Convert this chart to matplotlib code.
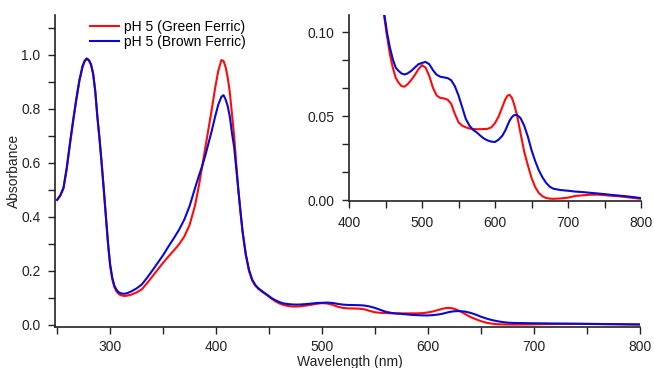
import matplotlib
matplotlib.use("Agg")
import matplotlib.pyplot as plt
from matplotlib.ticker import MultipleLocator, FormatStrFormatter

plt.rcParams['font.family'] = ['Liberation Sans', 'DejaVu Sans']

wavelength = [250, 253, 256, 259, 262, 265, 268, 271, 274, 276, 278, 280, 282, 284, 286, 288,
              290, 292, 294, 296, 298, 300, 302, 304, 306, 308, 310, 313, 316, 320, 325, 330,
              335, 340, 345, 350, 355, 360, 365, 370, 375, 380, 384, 387, 390, 393, 396, 399,
              402, 405, 407, 409, 411, 413, 415, 417, 419, 421, 423, 425, 428, 431, 434, 437,
              440, 444, 448, 452, 456, 460, 464, 468, 472, 476, 480, 485, 490, 495, 500, 505,
              510, 515, 520, 525, 530, 535, 540, 545, 550, 555, 560, 565, 570, 575, 580, 585,
              590, 595, 600, 605, 610, 614, 617, 620, 623, 626, 630, 635, 640, 645, 650, 655,
              660, 665, 670, 675, 680, 690, 700, 710, 720, 730, 740, 750, 760, 770, 780, 790, 800]

green_ferric = [0.463, 0.478, 0.505, 0.575, 0.665, 0.750, 0.830, 0.902, 0.955, 0.976, 0.985, 0.979,
                0.963, 0.930, 0.865, 0.770, 0.690, 0.600, 0.500, 0.400, 0.300, 0.220, 0.170, 0.140,
                0.124, 0.115, 0.110, 0.107, 0.108, 0.112, 0.120, 0.132, 0.155, 0.180, 0.205, 0.230,
                0.253, 0.275, 0.298, 0.327, 0.370, 0.440, 0.520, 0.590, 0.660, 0.730, 0.800, 0.875,
                0.940, 0.981, 0.978, 0.955, 0.915, 0.860, 0.780, 0.700, 0.600, 0.500, 0.420, 0.345,
                0.260, 0.200, 0.165, 0.145, 0.133, 0.121, 0.110, 0.098, 0.087, 0.079, 0.073, 0.070,
                0.068, 0.0677, 0.069, 0.0715, 0.0745, 0.078, 0.0805, 0.079, 0.074, 0.067, 0.0625,
                0.061, 0.0607, 0.060, 0.0575, 0.0515, 0.0465, 0.0445, 0.0435, 0.0428, 0.0425, 0.0424,
                0.0424, 0.0425, 0.0426, 0.0435, 0.046, 0.050, 0.0555, 0.060, 0.0623, 0.0628, 0.0612,
                0.0575, 0.051, 0.040, 0.029, 0.021, 0.0135, 0.008, 0.0045, 0.0025, 0.0015, 0.0011,
                0.001, 0.0012, 0.0017, 0.0027, 0.0031, 0.0034, 0.0035, 0.0032, 0.0028, 0.0025, 0.002,
                0.0015, 0.001]

brown_ferric = [0.463, 0.480, 0.508, 0.580, 0.670, 0.755, 0.835, 0.907, 0.959, 0.979, 0.987, 0.981,
                0.965, 0.930, 0.865, 0.770, 0.690, 0.600, 0.505, 0.405, 0.305, 0.225, 0.175, 0.145,
                0.130, 0.121, 0.117, 0.115, 0.117, 0.124, 0.135, 0.150, 0.175, 0.202, 0.230, 0.258,
                0.290, 0.320, 0.352, 0.390, 0.440, 0.505, 0.555, 0.590, 0.630, 0.675, 0.720, 0.770,
                0.815, 0.845, 0.851, 0.835, 0.810, 0.770, 0.710, 0.660, 0.580, 0.500, 0.420, 0.345,
                0.262, 0.205, 0.168, 0.148, 0.135, 0.123, 0.112, 0.100, 0.091, 0.084, 0.079, 0.077,
                0.0755, 0.075, 0.0755, 0.077, 0.079, 0.081, 0.0818, 0.0824, 0.081, 0.0775, 0.0748,
                0.0736, 0.0732, 0.0728, 0.0715, 0.068, 0.0625, 0.0555, 0.0485, 0.0445, 0.042, 0.0405,
                0.0385, 0.0368, 0.0357, 0.035, 0.0348, 0.0362, 0.0385, 0.0415, 0.0445, 0.0475, 0.0495,
                0.0507, 0.0509, 0.049, 0.0445, 0.038, 0.030, 0.0235, 0.018, 0.0138, 0.0105, 0.0082,
                0.0070, 0.0062, 0.0058, 0.0053, 0.005, 0.0046, 0.0042, 0.0038, 0.0033, 0.0029, 0.0025,
                0.002, 0.0014]

labels = ["pH 5 (Green Ferric)", "pH 5 (Brown Ferric)"]
colors = ["#ff0a0a", "#0a0acc"]

W, H = 654, 368
fig = plt.figure(figsize=(W / 100, H / 100), dpi=100)

def style(ax):
    for s in ("top", "right"):
        ax.spines[s].set_visible(False)
    for s in ("left", "bottom"):
        ax.spines[s].set_linewidth(1.2)
        ax.spines[s].set_color("#222222")
    ax.tick_params(which="both", direction="out", length=5, width=1.0, colors="#222222",
                   labelsize=10, labelcolor="#222222", pad=5.5)

ax = fig.add_axes([55 / W, 1 - 327 / H, (640 - 55) / W, (327 - 15) / H])
for y, lab, c in zip([green_ferric, brown_ferric], labels, colors):
    ax.plot(wavelength, y, color=c, lw=1.5, label=lab)
ax.set_xlim(248, 800)
ax.set_ylim(-0.008, 1.148)
ax.xaxis.set_major_locator(MultipleLocator(100))
ax.xaxis.set_minor_locator(MultipleLocator(50))
ax.yaxis.set_major_locator(MultipleLocator(0.2))
ax.yaxis.set_minor_locator(MultipleLocator(0.1))
ax.yaxis.set_major_formatter(FormatStrFormatter("%.1f"))
ax.set_xticks([300, 400, 500, 600, 700, 800])
style(ax)
ax.tick_params(axis="x", pad=4.5)
ax.set_xlabel("Wavelength (nm)", fontsize=10, color="#222222")
ax.set_ylabel("Absorbance", fontsize=10, color="#222222")
ax.xaxis.set_label_coords((350 - 55) / 585, -(355 - 327) / 312)
ax.yaxis.set_label_coords((21 - 55) / 585, 0.5)
ax.legend(loc="upper left", bbox_to_anchor=(80 / W, 1 - 10 / H), bbox_transform=fig.transFigure,
          frameon=False, fontsize=10, handlelength=2.1, handletextpad=0.4, labelspacing=0.1,
          borderpad=0.2)

axi = fig.add_axes([349 / W, 1 - 201 / H, (641 - 349) / W, (201 - 15) / H])
for y, c in zip([green_ferric, brown_ferric], colors):
    axi.plot(wavelength, y, color=c, lw=1.5)
axi.set_xlim(400, 800)
axi.set_ylim(-0.0003, 0.1103)
axi.xaxis.set_major_locator(MultipleLocator(100))
axi.xaxis.set_minor_locator(MultipleLocator(50))
axi.yaxis.set_major_locator(MultipleLocator(0.05))
axi.yaxis.set_minor_locator(MultipleLocator(0.05 / 3))
axi.yaxis.set_major_formatter(FormatStrFormatter("%.2f"))
style(axi)
axi.patch.set_alpha(0)

fig.savefig("out.png", dpi=100)
